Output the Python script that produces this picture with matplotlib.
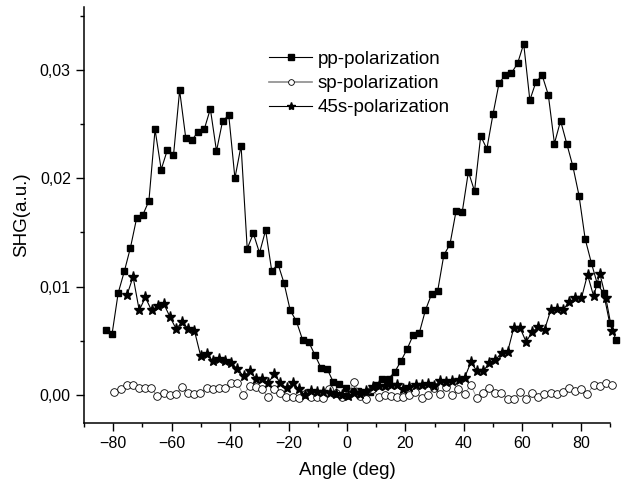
import numpy as np
import matplotlib.pyplot as plt
from matplotlib.ticker import FuncFormatter, MultipleLocator

plt.rcParams['font.family'] = ['Liberation Sans', 'DejaVu Sans']

# angle grids (deg) for each scan
angle_pp = np.linspace(-82.5, 92.0, 84)
angle_sp = np.linspace(-79.6, 90.7, 82)
angle_45s = np.linspace(-75.3, 90.7, 80)

shg_pp = [0.0060, 0.0056, 0.0094, 0.0114, 0.0136, 0.0163, 0.0166, 0.0179, 0.0245, 0.0208,
          0.0226, 0.0221, 0.0281, 0.0237, 0.0235, 0.0243, 0.0245, 0.0264, 0.0225, 0.0253,
          0.0258, 0.0200, 0.0230, 0.0135, 0.0149, 0.0131, 0.0152, 0.0114, 0.0121, 0.0103,
          0.0078, 0.0068, 0.0051, 0.0049, 0.0037, 0.0025, 0.0024, 0.0012, 0.0010, 0.0006,
          0.0004, 0.0004, 0.0002, 0.0003, 0.0009, 0.0015, 0.0015, 0.0021, 0.0031, 0.0042,
          0.0055, 0.0057, 0.0078, 0.0093, 0.0096, 0.0129, 0.0139, 0.0170, 0.0169, 0.0206,
          0.0188, 0.0239, 0.0227, 0.0259, 0.0288, 0.0295, 0.0297, 0.0306, 0.0324, 0.0272,
          0.0289, 0.0295, 0.0277, 0.0232, 0.0253, 0.0232, 0.0211, 0.0184, 0.0144, 0.0122,
          0.0102, 0.0094, 0.0066, 0.0051]

shg_sp = [0.0003, 0.0005, 0.0009, 0.0009, 0.0006, 0.0006, 0.0006, -0.0001, 0.0002, 0.0000,
          0.0001, 0.0007, 0.0002, 0.0001, 0.0002, 0.0006, 0.0005, 0.0006, 0.0006, 0.0011,
          0.0011, 0.0000, 0.0008, 0.0007, 0.0005, -0.0002, 0.0005, 0.0002, -0.0002, -0.0002,
          -0.0003, 0.0001, -0.0002, -0.0002, -0.0003, 0.0005, 0.0002, -0.0002, 0.0000, 0.0012,
          -0.0001, -0.0004, 0.0005, -0.0002, 0.0000, -0.0001, -0.0002, -0.0002, 0.0000, 0.0003,
          -0.0003, 0.0000, 0.0006, 0.0001, 0.0007, 0.0000, 0.0005, 0.0001, 0.0009, -0.0003,
          0.0002, 0.0006, 0.0002, 0.0002, -0.0004, -0.0004, 0.0003, -0.0004, 0.0002, -0.0002,
          0.0001, 0.0002, 0.0001, 0.0003, 0.0006, 0.0004, 0.0005, 0.0001, 0.0009, 0.0008,
          0.0011, 0.0009]

shg_45s = [0.0092, 0.0109, 0.0078, 0.0090, 0.0078, 0.0082, 0.0084, 0.0072, 0.0061, 0.0067,
           0.0061, 0.0059, 0.0036, 0.0038, 0.0031, 0.0033, 0.0031, 0.0029, 0.0024, 0.0017,
           0.0022, 0.0015, 0.0015, 0.0011, 0.0019, 0.0011, 0.0006, 0.0011, 0.0005, 0.0000,
           0.0004, 0.0003, 0.0003, 0.0002, 0.0001, 0.0000, -0.0001, 0.0002, 0.0001, 0.0004,
           0.0007, 0.0008, 0.0008, 0.0009, 0.0009, 0.0005, 0.0007, 0.0009, 0.0009, 0.0010,
           0.0008, 0.0013, 0.0012, 0.0013, 0.0014, 0.0016, 0.0030, 0.0022, 0.0022, 0.0029,
           0.0032, 0.0039, 0.0040, 0.0062, 0.0062, 0.0049, 0.0058, 0.0063, 0.0060, 0.0078,
           0.0079, 0.0078, 0.0086, 0.0089, 0.0089, 0.0111, 0.0091, 0.0112, 0.0089, 0.0059]

labels = ['pp-polarization', 'sp-polarization', '45s-polarization']

fig = plt.figure(figsize=(6.3, 4.82), dpi=100)
ax = fig.add_axes([0.1333, 0.1224, 0.835, 0.863])

ax.plot(angle_pp, shg_pp, color='black', lw=0.8, marker='s', ms=5,
        mfc='black', mec='black', label=labels[0], clip_on=False)
ax.plot(angle_sp, shg_sp, color='#8c8c8c', lw=0.6, marker='o', ms=5.5,
        mfc='white', mec='black', mew=0.6, label=labels[1], clip_on=False)
ax.plot(angle_45s, shg_45s, color='black', lw=0.8, marker='*', ms=8,
        mfc='black', mec='black', label=labels[2], clip_on=False)

ax.set_xlim(-90, 90)
ax.set_ylim(-0.0026, 0.0358)

ax.xaxis.set_major_locator(MultipleLocator(20))
ax.xaxis.set_minor_locator(MultipleLocator(10))
ax.yaxis.set_major_locator(MultipleLocator(0.01))
ax.yaxis.set_minor_locator(MultipleLocator(0.005))
ax.yaxis.set_major_formatter(FuncFormatter(lambda v, p: f'{v:.2f}'.replace('.', ',')))

for side in ['top', 'right']:
    ax.spines[side].set_visible(False)
for side in ['left', 'bottom']:
    ax.spines[side].set_linewidth(1.1)

ax.tick_params(which='major', direction='out', length=5.5, width=1.0, labelsize=11.5, pad=4)
ax.tick_params(which='minor', direction='out', length=3, width=1.0)

ax.set_xlabel('Angle (deg)', fontsize=13.5, labelpad=8)
ax.set_ylabel('SHG(a.u.)', fontsize=13.5, labelpad=7)

leg = ax.legend(loc='upper left', bbox_to_anchor=(0.352, 0.895), frameon=False, fontsize=13.5,
                handlelength=2.3, handletextpad=0.3, labelspacing=0.38, borderpad=0,
                borderaxespad=0, numpoints=1, markerscale=0.75)
leg.get_lines()[1].set_color('#8c8c8c')
leg.get_lines()[1].set_linewidth(1.2)

fig.savefig('out.png', dpi=100)
